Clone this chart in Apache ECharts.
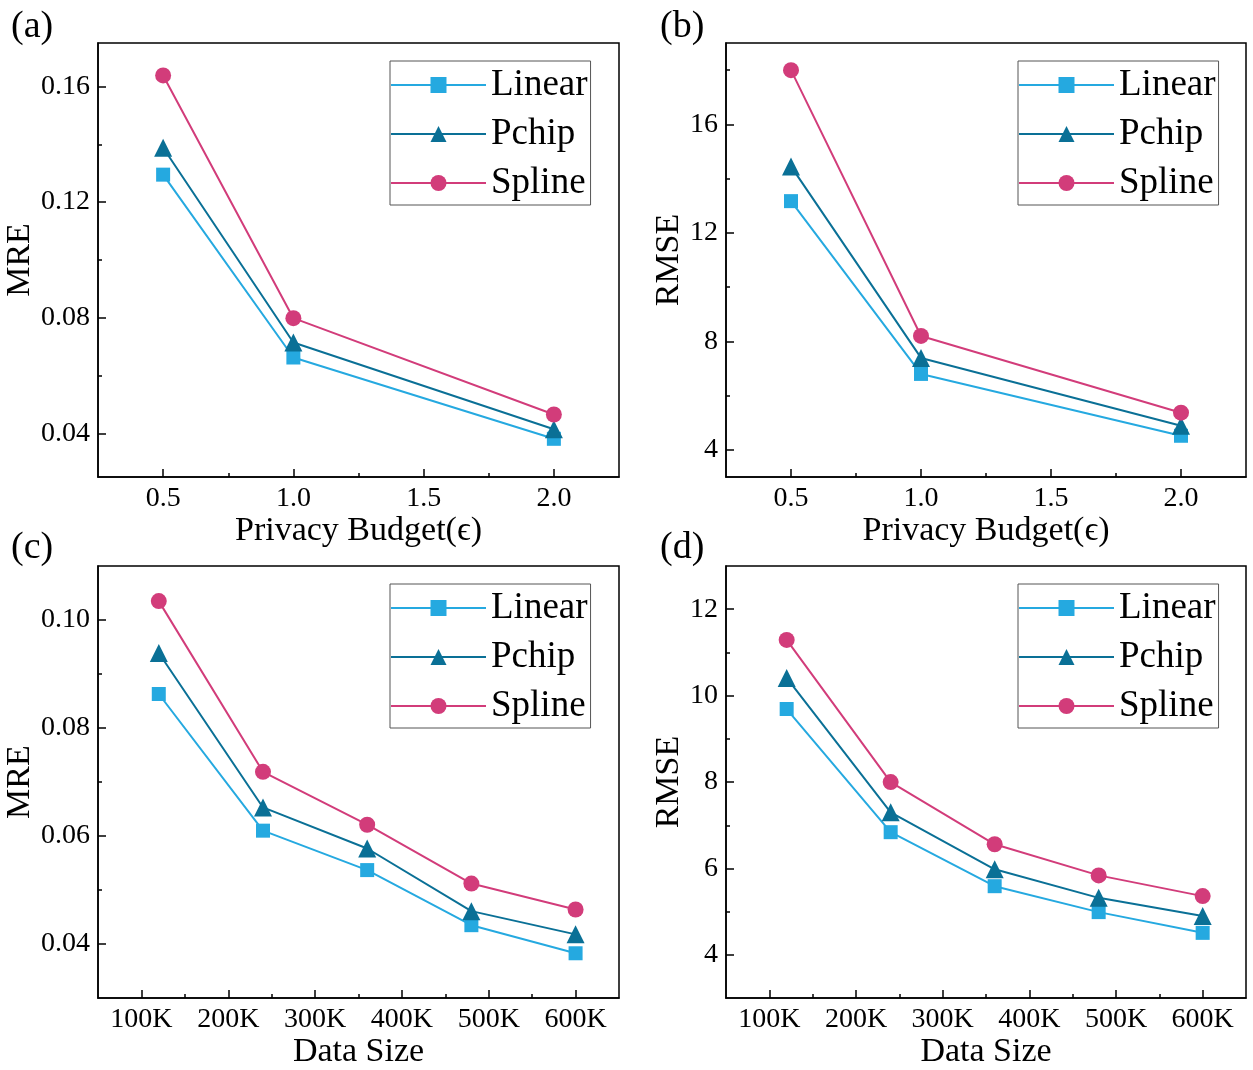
<!DOCTYPE html>
<html>
<head>
<meta charset="utf-8">
<script src="https://cdn.jsdelivr.net/npm/echarts@6/dist/echarts.min.js"></script>
<style>
  html, body { margin: 0; padding: 0; background: #fff; }
  #chart { width: 1253px; height: 1070px; }
</style>
</head>
<body>
<div id="chart"></div>
<script>
// x values
const epsilon = [0.5, 1.0, 2.0];
const dataSize = [120000, 240000, 360000, 480000, 600000];

// (a) MRE vs privacy budget
const mreEpsLinear = [0.1295, 0.0663, 0.0382];
const mreEpsPchip = [0.1388, 0.0715, 0.0415];
const mreEpsSpline = [0.1638, 0.0799, 0.0466];

// (b) RMSE vs privacy budget
const rmseEpsLinear = [13.17, 6.80, 4.52];
const rmseEpsPchip = [14.45, 7.39, 4.89];
const rmseEpsSpline = [18.0, 8.2, 5.37];

// (c) MRE vs data size
const mreSizeLinear = [0.0863, 0.0610, 0.0537, 0.0435, 0.0383];
const mreSizePchip = [0.0939, 0.0653, 0.0577, 0.0461, 0.0418];
const mreSizeSpline = [0.1035, 0.0719, 0.0621, 0.0512, 0.0464];

// (d) RMSE vs data size
const rmseSizeLinear = [9.69, 6.84, 5.59, 4.99, 4.51];
const rmseSizePchip = [10.41, 7.30, 5.98, 5.32, 4.90];
const rmseSizeSpline = [11.29, 8.0, 6.56, 5.84, 5.36];

// tick labels
const epsTicks = [0.5, 1.0, 1.5, 2.0];
const epsMinor = [0.75, 1.25, 1.75];
const sizeTicks = [100000, 200000, 300000, 400000, 500000, 600000];
const sizeMinor = [150000, 250000, 350000, 450000, 550000];
const mreEpsTicks = [0.04, 0.08, 0.12, 0.16];
const mreEpsMinor = [0.06, 0.10, 0.14];
const rmseEpsTicks = [4, 8, 12, 16];
const rmseEpsMinor = [6, 10, 14, 18];
const mreSizeTicks = [0.04, 0.06, 0.08, 0.10];
const mreSizeMinor = [0.05, 0.07, 0.09];
const rmseSizeTicks = [4, 6, 8, 10, 12];
const rmseSizeMinor = [5, 7, 9, 11];

const names = ['Linear', 'Pchip', 'Spline'];
const colors = ['#25A9E0', '#0A7096', '#D23C7A'];
const symbols = ['rect', 'triangle', 'circle'];
const symbolSizes = [14, 18, 16];

const FONT = '"Liberation Serif", "Times New Roman", serif';

const grids = [
  { left: 98, top: 43, width: 521, height: 434, show: true, borderColor: '#000', borderWidth: 1.5 },
  { left: 726, top: 43, width: 520, height: 434, show: true, borderColor: '#000', borderWidth: 1.5 },
  { left: 98, top: 566, width: 521, height: 434, show: true, borderColor: '#000', borderWidth: 1.5 },
  { left: 726, top: 566, width: 520, height: 434, show: true, borderColor: '#000', borderWidth: 1.5 },
];

function mainAxis(dim, gi, min, max, ticks, name, fmt, nameGap) {
  return {
    type: 'value', gridIndex: gi, min, max,
    position: dim === 'x' ? 'bottom' : 'left',
    name, nameLocation: 'middle', nameGap,
    nameTextStyle: { fontFamily: FONT, fontSize: 34, color: '#000' },
    axisLine: { show: true, onZero: false, lineStyle: { color: '#000', width: 1.5 } },
    axisTick: { show: true, inside: true, length: 8, customValues: ticks, lineStyle: { color: '#000', width: 1.5 } },
    axisLabel: { customValues: ticks, formatter: fmt, fontFamily: FONT, fontSize: 28, color: '#000', margin: 8 },
    splitLine: { show: false },
  };
}

function minorAxis(dim, gi, min, max, ticks) {
  return {
    type: 'value', gridIndex: gi, min, max,
    position: dim === 'x' ? 'bottom' : 'left',
    axisLine: { show: false, onZero: false },
    axisTick: { show: true, inside: true, length: 4, customValues: ticks, lineStyle: { color: '#000', width: 1.5 } },
    axisLabel: { show: false },
    splitLine: { show: false },
  };
}

const fmtEps = v => v.toFixed(1);
const fmtSize = v => (v / 1000) + 'K';
const fmtMre = v => v.toFixed(2);
const fmtRmse = v => String(v);

const xAxis = [
  mainAxis('x', 0, 0.25, 2.25, epsTicks, 'Privacy Budget(\u03f5)', fmtEps, 31), minorAxis('x', 0, 0.25, 2.25, epsMinor),
  mainAxis('x', 1, 0.25, 2.25, epsTicks, 'Privacy Budget(\u03f5)', fmtEps, 31), minorAxis('x', 1, 0.25, 2.25, epsMinor),
  mainAxis('x', 2, 50000, 650000, sizeTicks, 'Data Size', fmtSize, 33), minorAxis('x', 2, 50000, 650000, sizeMinor),
  mainAxis('x', 3, 50000, 650000, sizeTicks, 'Data Size', fmtSize, 33), minorAxis('x', 3, 50000, 650000, sizeMinor),
];
const yAxis = [
  mainAxis('y', 0, 0.025, 0.175, mreEpsTicks, 'MRE', fmtMre, 57), minorAxis('y', 0, 0.025, 0.175, mreEpsMinor),
  mainAxis('y', 1, 3, 19, rmseEpsTicks, 'RMSE', fmtRmse, 33), minorAxis('y', 1, 3, 19, rmseEpsMinor),
  mainAxis('y', 2, 0.03, 0.11, mreSizeTicks, 'MRE', fmtMre, 57), minorAxis('y', 2, 0.03, 0.11, mreSizeMinor),
  mainAxis('y', 3, 3, 13, rmseSizeTicks, 'RMSE', fmtRmse, 33), minorAxis('y', 3, 3, 13, rmseSizeMinor),
];

const panels = [
  { xs: epsilon, ys: [mreEpsLinear, mreEpsPchip, mreEpsSpline] },
  { xs: epsilon, ys: [rmseEpsLinear, rmseEpsPchip, rmseEpsSpline] },
  { xs: dataSize, ys: [mreSizeLinear, mreSizePchip, mreSizeSpline] },
  { xs: dataSize, ys: [rmseSizeLinear, rmseSizePchip, rmseSizeSpline] },
];

const series = [];
panels.forEach((p, gi) => {
  p.ys.forEach((vals, k) => {
    series.push({
      name: names[k], type: 'line',
      xAxisIndex: gi * 2, yAxisIndex: gi * 2,
      data: p.xs.map((x, i) => [x, vals[i]]),
      symbol: symbols[k], symbolSize: symbolSizes[k],
      lineStyle: { color: colors[k], width: 2 },
      itemStyle: { color: colors[k] },
      z: 3 + k,
    });
  });
});

const legendPos = [[390, 61], [1018, 61], [390, 584], [1018, 584]];
const legend = legendPos.map(([l, t]) => ({
  left: l, top: t, orient: 'vertical',
  data: names,
  itemWidth: 95, itemHeight: 20, itemGap: 9,
  padding: [4, 3, 2, 0],
  borderColor: '#555', borderWidth: 1,
  textStyle: { fontFamily: FONT, fontSize: 37, color: '#000', lineHeight: 40 },
}));

const panelLabels = [['(a)', 11, 28], ['(b)', 660, 28], ['(c)', 11, 549], ['(d)', 660, 549]];
const graphic = panelLabels.map(([t, x, y]) => ({
  type: 'text', left: x, top: y - 20,
  style: { text: t, fontFamily: FONT, fontSize: 38, fill: '#000' },
}));

const chart = echarts.init(document.getElementById('chart'));
chart.setOption({
  animation: false,
  backgroundColor: '#fff',
  grid: grids,
  xAxis, yAxis, series, legend, graphic,
});
</script>
</body>
</html>
